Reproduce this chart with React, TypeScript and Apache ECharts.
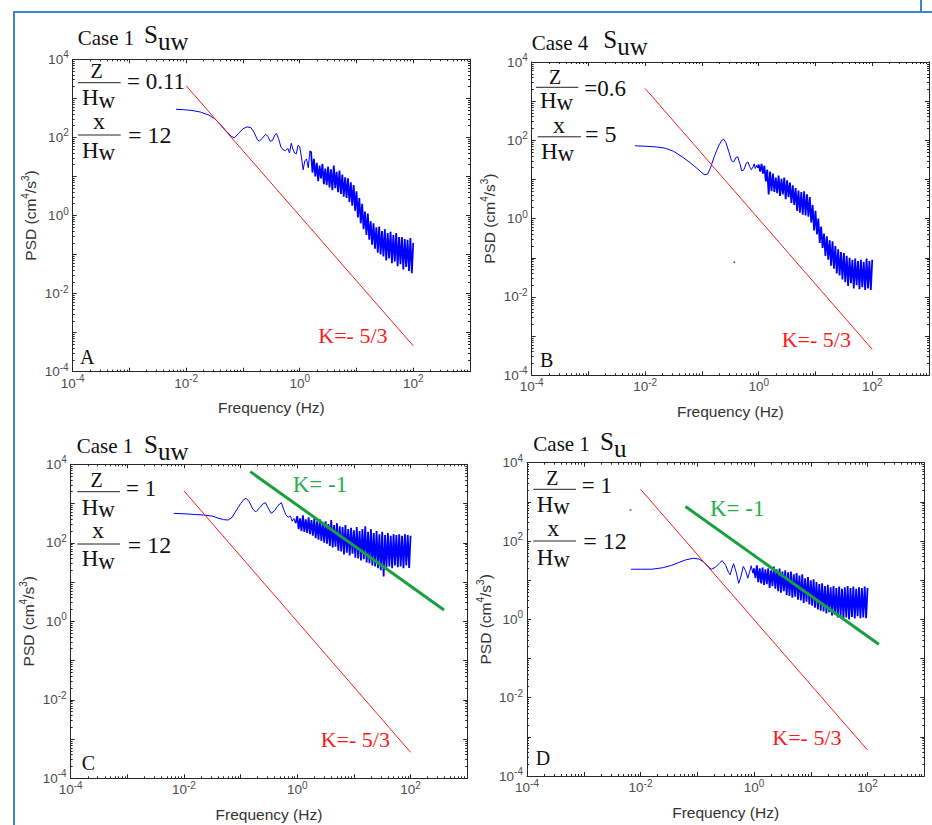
import React, { useEffect, useRef } from "react";
import * as echarts from "echarts";

// ---------- DATA ----------
// Each spectrum point: [log10 frequency (Hz), log10 PSD (cm^4/s^3)]
const A_SMOOTH: number[][] = [
  [-2.18, 2.72], [-2.05, 2.71], [-1.9, 2.69], [-1.75, 2.65], [-1.6, 2.57], [-1.5, 2.48],
  [-1.4, 2.34], [-1.3, 2.17], [-1.2, 2.02], [-1.15, 1.99], [-1.08, 2.1], [-1.0, 2.22],
  [-0.93, 2.27], [-0.86, 2.25], [-0.8, 2.12], [-0.75, 1.95], [-0.71, 1.9], [-0.66, 1.98],
  [-0.6, 2.08], [-0.56, 2.02], [-0.52, 1.9], [-0.48, 1.92], [-0.44, 2.06], [-0.41, 2.1],
  [-0.37, 1.95], [-0.33, 1.75], [-0.29, 1.68], [-0.25, 1.66], [-0.21, 1.72], [-0.18, 1.6],
  [-0.15, 1.85], [-0.12, 1.7], [-0.09, 1.6], [-0.06, 1.58], [-0.03, 1.8], [0.0, 1.76],
  [0.03, 1.5], [0.06, 1.17], [0.09, 1.4], [0.12, 1.45], [0.15, 1.22], [0.18, 1.65],
];
const A_NOISY: number[][] = [
  [0.2, 1.62], [0.225, 1.1], [0.25, 1.45], [0.275, 1.0], [0.3, 1.35], [0.325, 0.88],
  [0.35, 1.28], [0.375, 0.95], [0.4, 1.32], [0.425, 0.8], [0.45, 1.2], [0.475, 0.78],
  [0.5, 1.25], [0.525, 0.72], [0.55, 1.18], [0.575, 0.65], [0.6, 1.28], [0.625, 0.7],
  [0.65, 1.12], [0.675, 0.6], [0.7, 1.15], [0.725, 0.55], [0.75, 1.05], [0.775, 0.48],
  [0.8, 0.98], [0.825, 0.45], [0.85, 0.95], [0.875, 0.35], [0.9, 0.85], [0.925, 0.25],
  [0.95, 0.78], [0.975, 0.12], [1.0, 0.62], [1.025, -0.05], [1.05, 0.45], [1.075, -0.2],
  [1.1, 0.3], [1.125, -0.35], [1.15, 0.1], [1.175, -0.5], [1.2, 0.05], [1.225, -0.62],
  [1.25, -0.15], [1.275, -0.75], [1.3, -0.2], [1.325, -0.85], [1.35, -0.3], [1.375, -0.95],
  [1.4, -0.28], [1.425, -1.0], [1.45, -0.4], [1.475, -1.05], [1.5, -0.35], [1.525, -1.15],
  [1.55, -0.45], [1.575, -1.1], [1.6, -0.42], [1.625, -1.22], [1.65, -0.5], [1.675, -1.18],
  [1.7, -0.45], [1.725, -1.3], [1.75, -0.55], [1.775, -1.25], [1.8, -0.55], [1.825, -1.38],
  [1.85, -0.6], [1.875, -1.32], [1.9, -0.62], [1.925, -1.42], [1.95, -0.58], [1.975, -1.48],
  [2.0, -0.7],
];

const B_SMOOTH: number[][] = [
  [-2.18, 1.86], [-2.0, 1.85], [-1.8, 1.83], [-1.65, 1.8], [-1.5, 1.72], [-1.35, 1.58],
  [-1.2, 1.42], [-1.1, 1.3], [-1.0, 1.17], [-0.95, 1.12], [-0.9, 1.14], [-0.85, 1.3],
  [-0.78, 1.6], [-0.7, 1.88], [-0.65, 2.0], [-0.62, 2.03], [-0.58, 1.95], [-0.53, 1.72],
  [-0.48, 1.48], [-0.44, 1.45], [-0.4, 1.56], [-0.37, 1.58], [-0.33, 1.4], [-0.3, 1.22],
  [-0.26, 1.25], [-0.22, 1.42], [-0.19, 1.45], [-0.16, 1.33], [-0.13, 1.25], [-0.1, 1.32],
  [-0.08, 1.4], [-0.06, 1.28], [-0.04, 1.36], [-0.02, 1.3],
];
const B_NOISY: number[][] = [
  [0.0, 1.38], [0.025, 1.2], [0.05, 1.4], [0.075, 1.15], [0.1, 1.35], [0.125, 0.95],
  [0.15, 1.25], [0.175, 0.62], [0.2, 1.2], [0.225, 0.7], [0.25, 1.15], [0.275, 0.68],
  [0.3, 1.05], [0.325, 0.65], [0.35, 1.1], [0.375, 0.58], [0.4, 1.02], [0.425, 0.62],
  [0.45, 1.05], [0.475, 0.5], [0.5, 0.98], [0.525, 0.55], [0.55, 0.92], [0.575, 0.4],
  [0.6, 0.85], [0.625, 0.35], [0.65, 0.78], [0.675, 0.2], [0.7, 0.72], [0.725, 0.15],
  [0.75, 0.68], [0.775, 0.1], [0.8, 0.7], [0.825, 0.08], [0.85, 0.62], [0.875, 0.05],
  [0.9, 0.55], [0.925, -0.1], [0.95, 0.35], [0.975, -0.3], [1.0, 0.2], [1.025, -0.4],
  [1.05, 0.0], [1.075, -0.62], [1.1, -0.2], [1.125, -0.75], [1.15, -0.38], [1.175, -0.95],
  [1.2, -0.45], [1.225, -1.05], [1.25, -0.55], [1.275, -1.2], [1.3, -0.58], [1.325, -1.28],
  [1.35, -0.7], [1.375, -1.4], [1.4, -0.78], [1.425, -1.45], [1.45, -0.85], [1.475, -1.55],
  [1.5, -0.88], [1.525, -1.62], [1.55, -0.95], [1.575, -1.72], [1.6, -1.0], [1.625, -1.65],
  [1.65, -1.05], [1.675, -1.78], [1.7, -1.02], [1.725, -1.7], [1.75, -1.08], [1.775, -1.8],
  [1.8, -1.05], [1.825, -1.75], [1.85, -1.1], [1.875, -1.82], [1.9, -1.02], [1.925, -1.78],
  [1.95, -1.08], [1.975, -1.82], [2.0, -1.05],
];

const C_SMOOTH: number[][] = [
  [-2.18, 2.75], [-2.0, 2.74], [-1.8, 2.72], [-1.66, 2.71], [-1.5, 2.68], [-1.4, 2.63],
  [-1.3, 2.59], [-1.22, 2.58], [-1.15, 2.65], [-1.07, 2.84], [-1.0, 3.0], [-0.93, 3.12],
  [-0.9, 3.13], [-0.85, 3.05], [-0.78, 2.85], [-0.73, 2.79], [-0.66, 2.9], [-0.6, 3.0],
  [-0.56, 3.02], [-0.52, 2.9], [-0.46, 2.75], [-0.4, 2.82], [-0.34, 2.95], [-0.28, 3.02],
  [-0.24, 2.85], [-0.2, 2.71], [-0.16, 2.65], [-0.12, 2.68], [-0.09, 2.55], [-0.06, 2.62],
  [-0.03, 2.5],
];
const C_NOISY: number[][] = [
  [0.0, 2.68], [0.025, 2.35], [0.05, 2.62], [0.075, 2.3], [0.1, 2.7], [0.125, 2.28],
  [0.15, 2.6], [0.175, 2.25], [0.2, 2.65], [0.225, 2.22], [0.25, 2.58], [0.275, 2.18],
  [0.3, 2.62], [0.325, 2.12], [0.35, 2.55], [0.375, 2.08], [0.4, 2.6], [0.425, 2.05],
  [0.45, 2.52], [0.475, 2.0], [0.5, 2.55], [0.525, 1.98], [0.55, 2.48], [0.575, 1.92],
  [0.6, 2.58], [0.625, 1.88], [0.65, 2.45], [0.675, 1.9], [0.7, 2.5], [0.725, 1.8],
  [0.75, 2.42], [0.775, 1.78], [0.8, 2.4], [0.825, 1.7], [0.85, 2.45], [0.875, 1.75],
  [0.9, 2.35], [0.925, 1.68], [0.95, 2.38], [0.975, 1.72], [1.0, 2.32], [1.025, 1.62],
  [1.05, 2.4], [1.075, 1.6], [1.1, 2.3], [1.125, 1.55], [1.15, 2.35], [1.175, 1.58],
  [1.2, 2.42], [1.225, 1.5], [1.25, 2.28], [1.275, 1.48], [1.3, 2.35], [1.325, 1.42],
  [1.35, 2.25], [1.375, 1.4], [1.4, 2.3], [1.425, 1.35], [1.45, 2.22], [1.475, 1.3],
  [1.5, 2.28], [1.525, 1.14], [1.55, 2.2], [1.575, 1.38], [1.6, 2.25], [1.625, 1.4],
  [1.65, 2.18], [1.675, 1.35], [1.7, 2.22], [1.725, 1.42], [1.75, 2.2], [1.775, 1.38],
  [1.8, 2.22], [1.825, 1.4], [1.85, 2.18], [1.875, 1.35], [1.9, 2.22], [1.925, 1.42],
  [1.95, 2.2], [1.975, 1.36], [2.0, 2.18],
];

const D_SMOOTH: number[][] = [
  [-2.17, 1.28], [-2.0, 1.28], [-1.8, 1.28], [-1.6, 1.32], [-1.45, 1.38], [-1.33, 1.45],
  [-1.2, 1.52], [-1.07, 1.56], [-0.97, 1.54], [-0.89, 1.47], [-0.82, 1.36], [-0.75, 1.28],
  [-0.68, 1.33], [-0.6, 1.45], [-0.56, 1.5], [-0.5, 1.38], [-0.45, 1.2], [-0.42, 1.14],
  [-0.39, 1.3], [-0.36, 1.42], [-0.31, 1.18], [-0.27, 0.92], [-0.23, 1.1], [-0.19, 1.35],
  [-0.15, 1.25], [-0.11, 1.05], [-0.08, 1.2], [-0.05, 1.37], [-0.02, 1.18],
];
const D_NOISY: number[][] = [
  [0.0, 1.3], [0.025, 1.05], [0.05, 1.38], [0.075, 0.95], [0.1, 1.3], [0.125, 0.92],
  [0.15, 1.32], [0.175, 0.88], [0.2, 1.28], [0.225, 0.9], [0.25, 1.3], [0.275, 0.8],
  [0.3, 1.25], [0.325, 0.85], [0.35, 1.35], [0.375, 0.78], [0.4, 1.28], [0.425, 0.72],
  [0.45, 1.3], [0.475, 0.68], [0.5, 1.22], [0.525, 0.72], [0.55, 1.25], [0.575, 0.62],
  [0.6, 1.2], [0.625, 0.6], [0.65, 1.22], [0.675, 0.55], [0.7, 1.15], [0.725, 0.58],
  [0.75, 1.18], [0.775, 0.5], [0.8, 1.12], [0.825, 0.48], [0.85, 1.15], [0.875, 0.42],
  [0.9, 1.05], [0.925, 0.45], [0.95, 1.08], [0.975, 0.38], [1.0, 1.0], [1.025, 0.35],
  [1.05, 1.02], [1.075, 0.3], [1.1, 0.95], [1.125, 0.25], [1.15, 0.9], [1.175, 0.22],
  [1.2, 0.92], [1.225, 0.2], [1.25, 0.85], [1.275, 0.15], [1.3, 0.88], [1.325, 0.18],
  [1.35, 0.82], [1.375, 0.1], [1.4, 0.85], [1.425, 0.12], [1.45, 0.8], [1.475, 0.05],
  [1.5, 0.84], [1.525, 0.08], [1.55, 0.78], [1.575, 0.02], [1.6, 0.82], [1.625, 0.05],
  [1.65, 0.85], [1.675, 0.0], [1.7, 0.8], [1.725, 0.06], [1.75, 0.84], [1.775, 0.02],
  [1.8, 0.78], [1.825, 0.08], [1.85, 0.82], [1.875, 0.03], [1.9, 0.8], [1.925, 0.05],
  [1.95, 0.84], [1.975, 0.03], [2.0, 0.8],
];

// Reference slopes: [frequency (Hz), PSD]
const K53_LINE: number[][] = [[1e-2, 2.1e3], [1e2, 4.6e-4]];
const K1_LINE_C: number[][] = [[0.148, 6500], [390, 1.95]];
const K1_LINE_D: number[][] = [[0.062, 760], [158, 0.23]];

const X_TICK_EXPONENTS = [-4, -2, 0, 2];
const Y_TICK_EXPONENTS = [-4, -2, 0, 2, 4];

// ---------- LAYOUT ----------
const GRIDS = [
  { left: 72.7, top: 59.3, width: 397.3, height: 312.4 },
  { left: 531.7, top: 62, width: 397.3, height: 313.3 },
  { left: 70.7, top: 464.3, width: 396.5, height: 314 },
  { left: 527, top: 462.7, width: 397.3, height: 313.3 },
];

const SANS = '"Liberation Sans", Arial, sans-serif';
const SERIF = '"Liberation Serif", "Times New Roman", serif';
const AXIS_COLOR = "#262626";
const LABEL_COLOR = "#4d4d4d";
const RED = "#ff1a1a";
const GREEN_LINE = "#17a03c";
const GREEN_TEXT = "#27b04a";
const BLUE = "#0000ff";
const FRAME = "#3a86d4";

const toLin = (pts: number[][]) => pts.map(([f, p]) => [Math.pow(10, f), Math.pow(10, p)]);

const tickRich = {
  b: { fontSize: 13.5, fontFamily: SANS, color: LABEL_COLOR, lineHeight: 13 },
  s: { fontSize: 10, fontFamily: SANS, color: LABEL_COLOR, lineHeight: 10, padding: [0, 0, 9, 0] },
};

const fmt = (allowed: number[]) => (v: number) => {
  const e = Math.round(Math.log10(v));
  if (!allowed.includes(e)) return "";
  return `{b|10}{s|${e}}`;
};

function xAxis(gi: number, main: boolean) {
  return {
    type: "log",
    logBase: 10,
    gridIndex: gi,
    min: 1e-4,
    max: 1e3,
    interval: 1,
    position: main ? "bottom" : "top",
    axisLine: { show: true, onZero: false, lineStyle: { color: AXIS_COLOR, width: 1 } },
    axisTick: { show: true, inside: true, length: 4, lineStyle: { color: AXIS_COLOR, width: 1 } },
    minorTick: { show: true, splitNumber: 9, length: 2, lineStyle: { color: AXIS_COLOR, width: 1 } },
    splitLine: { show: false },
    minorSplitLine: { show: false },
    axisLabel: main
      ? { show: true, margin: 5, formatter: fmt(X_TICK_EXPONENTS), rich: tickRich, showMinLabel: true, showMaxLabel: true }
      : { show: false },
    name: main ? "Frequency (Hz)" : "",
    nameLocation: "middle",
    nameGap: 28,
    nameTextStyle: { fontFamily: SANS, fontSize: 15.5, color: "#333" },
  };
}

function yAxis(gi: number, main: boolean) {
  return {
    type: "log",
    logBase: 10,
    gridIndex: gi,
    min: 1e-4,
    max: 1e4,
    interval: 1,
    position: main ? "left" : "right",
    axisLine: { show: true, onZero: false, lineStyle: { color: AXIS_COLOR, width: 1 } },
    axisTick: { show: true, inside: true, length: 4, lineStyle: { color: AXIS_COLOR, width: 1 } },
    minorTick: { show: true, splitNumber: 9, length: 2, lineStyle: { color: AXIS_COLOR, width: 1 } },
    splitLine: { show: false },
    minorSplitLine: { show: false },
    axisLabel: main
      ? { show: true, margin: 4, formatter: fmt(Y_TICK_EXPONENTS), rich: tickRich, showMinLabel: true, showMaxLabel: true }
      : { show: false },
    name: main ? "{n|PSD (cm}{s|4}{n|/s}{s|3}{n|)}" : "",
    nameLocation: "middle",
    nameGap: 34,
    nameRotate: 90,
    nameTextStyle: {
      rich: {
        n: { fontFamily: SANS, fontSize: 15.5, color: "#333", lineHeight: 15 },
        s: { fontFamily: SANS, fontSize: 10, color: "#333", lineHeight: 10, padding: [0, 0, 10, 0] },
      },
    },
  };
}

// ---------- TEXT ANNOTATIONS ----------
function t(x: number, base: number, text: string, size: number, fill = "#111", align = "left") {
  return {
    type: "text",
    x,
    y: base - 0.34 * size,
    silent: true,
    style: {
      text, fontSize: size, fontFamily: SERIF, fill, align, verticalAlign: "middle",
      lineHeight: Math.round(size * 0.8),
    },
  };
}
// main glyph followed by a lowered subscript, as one text
function sub(x: number, base: number, main: string, subText: string, size: number, drop: number) {
  const lh = Math.round(size * 0.75);
  return {
    type: "text",
    x,
    y: base - 0.34 * size,
    silent: true,
    style: {
      text: `{m|${main}}{u|${subText}}`,
      fill: "#111",
      align: "left",
      verticalAlign: "middle",
      rich: {
        m: { fontSize: size, fontFamily: SERIF, fill: "#111", lineHeight: lh },
        u: { fontSize: size, fontFamily: SERIF, fill: "#111", lineHeight: lh, padding: [drop * 2, 0, 0, 0] },
      },
    },
  };
}
function hl(x1: number, x2: number, y: number) {
  return { type: "line", silent: true, shape: { x1, y1: y, x2, y2: y }, style: { stroke: "#222", lineWidth: 1 } };
}
function frac(num: string, numCx: number, numBase: number, numSize: number, lineX1: number, lineX2: number, lineY: number, hx: number, hBase: number) {
  return [
    t(numCx, numBase, num, numSize, "#111", "center"),
    hl(lineX1, lineX2, lineY),
    sub(hx, hBase, "H", "w", 23, 2.5),
  ];
}

const GRAPHICS: any[] = [
  // outer frame
  { type: "line", silent: true, shape: { x1: 14, y1: 12, x2: 932, y2: 12 }, style: { stroke: FRAME, lineWidth: 2 } },
  { type: "line", silent: true, shape: { x1: 14, y1: 11, x2: 14, y2: 825 }, style: { stroke: FRAME, lineWidth: 2 } },
  { type: "line", silent: true, shape: { x1: 921, y1: 0, x2: 921, y2: 12 }, style: { stroke: FRAME, lineWidth: 2 } },

  // Panel A
  t(77.7, 45, "Case 1", 21),
  sub(144, 43.3, "S", "uw", 25, 6.7),
  ...frac("Z", 96.5, 77.3, 20, 78, 120.7, 82.7, 82, 105.5),
  t(127, 89.3, "= 0.11", 23),
  ...frac("x", 99, 129.2, 24, 78, 120.7, 135, 82, 158.3),
  t(128, 143.3, "= 12", 24),
  t(80, 364, "A", 20),
  t(318.3, 342.7, "K=- 5/3", 22, RED),

  // Panel B
  t(531.7, 50, "Case 4", 21),
  sub(603.3, 48.3, "S", "uw", 25, 6.7),
  ...frac("Z", 555, 83.3, 20, 536, 578.3, 87.3, 540, 108.2),
  t(584.3, 96.7, "=0.6", 23),
  ...frac("x", 559, 132.8, 24, 537.7, 581, 136.8, 541, 159.3),
  t(585, 141.7, "= 5", 24),
  t(540, 366.7, "B", 20),
  t(781.7, 347.3, "K=- 5/3", 22, RED),
  { type: "circle", silent: true, shape: { cx: 734.3, cy: 262.3, r: 0.9 }, style: { fill: "#555" } },

  // Panel C
  t(76.7, 453.3, "Case 1", 21),
  sub(144, 452.7, "S", "uw", 25, 7.3),
  ...frac("Z", 96.7, 486.7, 20, 77.3, 120, 491.7, 81.7, 515),
  t(126, 496, "= 1", 23),
  ...frac("x", 98, 538.3, 24, 77.3, 120, 544, 81.7, 566.7),
  t(127.7, 552.7, "= 12", 24),
  t(81.7, 769.3, "C", 20),
  t(320.7, 747.3, "K=- 5/3", 22, RED),
  t(292.7, 492.7, "K= -1", 23, GREEN_TEXT),

  // Panel D
  t(533.3, 450.7, "Case 1", 21),
  sub(600, 450.2, "S", "u", 25, 7.1),
  ...frac("Z", 552.3, 485, 20, 533.3, 576, 489.3, 536.7, 512.2),
  t(581.7, 493.3, "= 1", 23),
  ...frac("x", 553.3, 535.8, 24, 533.3, 576, 541, 536.7, 565),
  t(583.3, 549.3, "= 12", 24),
  t(535.7, 765, "D", 20),
  t(772.3, 745, "K=- 5/3", 22, RED),
  t(710, 516, "K= -1", 23, GREEN_TEXT),
  { type: "line", silent: true, shape: { x1: 629.5, y1: 510, x2: 631.5, y2: 510 }, style: { stroke: BLUE, lineWidth: 1 } },
];

function lineSeries(gi: number, data: number[][], color: string, width: number, z = 2) {
  return {
    type: "line",
    xAxisIndex: gi * 2,
    yAxisIndex: gi * 2,
    data,
    showSymbol: false,
    symbol: "none",
    silent: true,
    z,
    lineStyle: { color, width },
  };
}

export default function App() {
  const ref = useRef<HTMLDivElement>(null);
  useEffect(() => {
    if (!ref.current) return;
    const chart = echarts.init(ref.current, undefined, { renderer: "svg" });
    const spectra = [
      [A_SMOOTH, A_NOISY],
      [B_SMOOTH, B_NOISY],
      [C_SMOOTH, C_NOISY],
      [D_SMOOTH, D_NOISY],
    ];
    const series: any[] = [];
    spectra.forEach(([smooth, noisy], gi) => {
      series.push(lineSeries(gi, toLin(smooth), BLUE, 1, 2));
      // noisy part starts at the last smooth point so the trace is continuous
      series.push(lineSeries(gi, toLin([smooth[smooth.length - 1], ...noisy]), BLUE, 1.8, 2));
      series.push(lineSeries(gi, K53_LINE, RED, 1, 3));
    });
    series.push(lineSeries(2, K1_LINE_C, GREEN_LINE, 3, 4));
    series.push(lineSeries(3, K1_LINE_D, GREEN_LINE, 3, 4));

    const xAxes: any[] = [];
    const yAxes: any[] = [];
    GRIDS.forEach((_, gi) => {
      xAxes.push(xAxis(gi, true), xAxis(gi, false));
      yAxes.push(yAxis(gi, true), yAxis(gi, false));
    });

    chart.setOption({
      animation: false,
      backgroundColor: "#ffffff",
      grid: GRIDS.map((g) => ({ ...g, containLabel: false, outerBoundsMode: "none", show: false })),
      xAxis: xAxes,
      yAxis: yAxes,
      series,
      graphic: { elements: GRAPHICS },
    });
    return () => chart.dispose();
  }, []);
  return (
    <div
      ref={ref}
      style={{ position: "fixed", left: 0, top: 0, width: 932, height: 825, background: "#fff" }}
    />
  );
}
